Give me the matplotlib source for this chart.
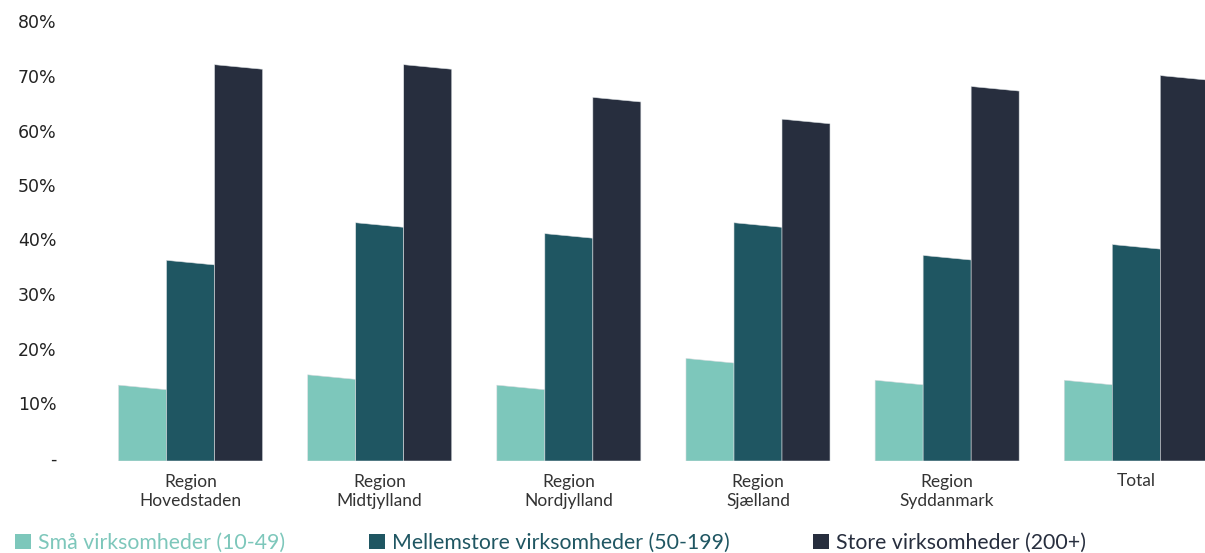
import matplotlib
matplotlib.use("Agg")
import matplotlib.pyplot as plt
import matplotlib.transforms as mtransforms
from matplotlib.patches import Polygon, Patch

# Data (andel i procent)
regions = ["Region\nHovedstaden", "Region\nMidtjylland", "Region\nNordjylland",
           "Region\nSjælland", "Region\nSyddanmark", "Total"]
smaa = [13.5, 15.4, 13.5, 18.4, 14.4, 14.4]
mellem = [36.4, 43.3, 41.3, 43.3, 37.3, 39.3]
store = [72.3, 72.3, 66.3, 62.3, 68.3, 70.3]

series_names = ["Små virksomheder (10-49)", "Mellemstore virksomheder (50-199)",
                "Store virksomheder (200+)"]
colors = ["#7dc7bb", "#1f5662", "#272e3e"]

W, H = 1205, 553
fig = plt.figure(figsize=(W / 100, H / 100), dpi=100)
ax = fig.add_axes([96 / W, (H - 461) / H, (W - 96) / W, (461 - 25) / H])

bar_w = 48 / 189.1
slant = 0.42  # skrå top (procentpoint)

for k, vals in enumerate([smaa, mellem, store]):
    for i, v in enumerate(vals):
        x0 = i + (k - 1.5) * bar_w
        x1 = x0 + bar_w
        poly = Polygon([(x0, 0), (x0, v + slant), (x1, v - slant), (x1, 0)],
                       closed=True, facecolor=colors[k],
                       edgecolor="#d8dde0", linewidth=0.4)
        ax.add_patch(poly)

ax.set_xlim(-0.5, 5 + (W - 1136.3) / 189.1)
ax.set_ylim(0, 80)

ax.set_yticks(range(0, 81, 10))
ax.set_yticklabels(["-"] + [f"{t}%" for t in range(10, 81, 10)],
                   fontsize=12.5, color="#222222", family="DejaVu Sans")
ax.tick_params(axis="y", length=0, pad=28.5)
# etiketter lidt over linjen, som i originalen
shift = mtransforms.ScaledTranslation(0, 3.5 / 100, fig.dpi_scale_trans)
for lab in ax.get_yticklabels():
    lab.set_transform(lab.get_transform() + shift)

ax.set_xticks(range(len(regions)))
ax.set_xticklabels(regions, fontsize=12.5, color="#333333", family="Lato",
                   linespacing=1.25)
ax.tick_params(axis="x", length=0, pad=9)

for s in ax.spines.values():
    s.set_visible(False)

handles = [Patch(facecolor=c, edgecolor="none") for c in colors]
leg = fig.legend(handles, series_names, loc="center left",
                 bbox_to_anchor=(15 / W, (H - 543) / H), ncol=3, frameon=False,
                 prop={"family": "Lato", "size": 15.35},
                 handlelength=0.76, handleheight=0.66, handletextpad=0.33,
                 columnspacing=3.9, borderpad=0, borderaxespad=0)
for txt, c in zip(leg.get_texts(), colors):
    txt.set_color(c)

fig.savefig("out.png", dpi=100)
